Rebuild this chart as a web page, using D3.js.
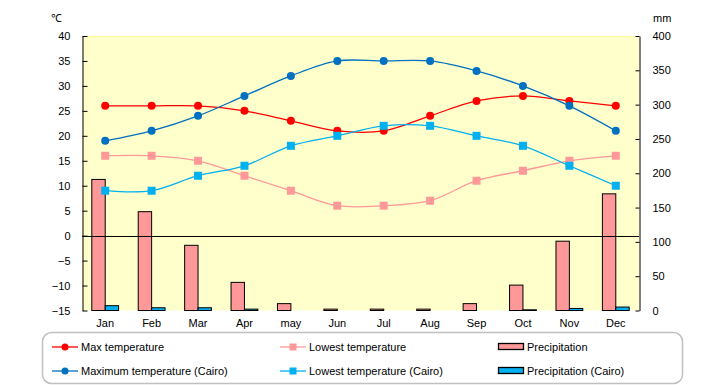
<!DOCTYPE html>
<html>
<head>
<meta charset="utf-8">
<script src="https://cdn.jsdelivr.net/npm/d3@7"></script>
<style>
  body { margin: 0; background: #fff; }
  text { font-family: "Liberation Sans", Arial, sans-serif; font-size: 11px; fill: #000; }
</style>
</head>
<body>
<div id="chart"></div>
<script>
// Data
const months = ["Jan", "Feb", "Mar", "Apr", "may", "Jun", "Jul", "Aug", "Sep", "Oct", "Nov", "Dec"];
const maxTemp = [26, 26, 26, 25, 23, 21, 21, 24, 27, 28, 27, 26];
const minTemp = [16, 16, 15, 12, 9, 6, 6, 7, 11, 13, 15, 16];
const maxTempCairo = [19, 21, 24, 28, 32, 35, 35, 35, 33, 30, 26, 21];
const minTempCairo = [9, 9, 12, 14, 18, 20, 22, 22, 20, 18, 14, 10];
const precip = [191, 144, 95, 41, 10, 2, 2, 2, 10, 37, 101, 170];
const precipCairo = [7, 4, 4, 2, 0, 0, 0, 0, 0, 1, 3, 5];
const tempTicks = [-15, -10, -5, 0, 5, 10, 15, 20, 25, 30, 35, 40];
const rainTicks = [0, 50, 100, 150, 200, 250, 300, 350, 400];

const dims = { width: 720, height: 385, left: 82, right: 639, top: 36, bottom: 310.5 };

const svg = d3.select("#chart").append("svg")
  .attr("width", dims.width)
  .attr("height", dims.height);

// scales
const x = d3.scaleBand().domain(months).range([dims.left, dims.right]);
const yT = d3.scaleLinear().domain([-15, 40]).range([dims.bottom, dims.top]);
const yR = d3.scaleLinear().domain([0, 400]).range([dims.bottom, dims.top]);
const barW = 13.4;
const xSub = d3.scaleBand().domain(["city", "cairo"]).range([-barW, barW]);
const cx = m => x(m) + x.bandwidth() / 2;

// plot background
svg.append("rect")
  .attr("x", dims.left).attr("y", dims.top)
  .attr("width", dims.right - dims.left).attr("height", dims.bottom - dims.top)
  .attr("fill", "#ffffcc");
svg.append("line")
  .attr("x1", dims.left).attr("x2", dims.right)
  .attr("y1", dims.top + 0.5).attr("y2", dims.top + 0.5)
  .attr("stroke", "#ffff99");

// bars
const barSeries = [
  { key: "city", values: precip, fill: "#ff9999" },
  { key: "cairo", values: precipCairo, fill: "#00b0f0" }
];
barSeries.forEach(s => {
  svg.append("g").selectAll("rect")
    .data(months)
    .join("rect")
    .attr("x", (m) => cx(m) + xSub(s.key))
    .attr("width", xSub.bandwidth())
    .attr("y", (m, i) => yR(s.values[i]))
    .attr("height", (m, i) => dims.bottom - yR(s.values[i]))
    .attr("fill", s.fill)
    .attr("stroke", "#000")
    .attr("stroke-width", 1);
});

// zero line
svg.append("line")
  .attr("x1", dims.left).attr("x2", dims.right)
  .attr("y1", Math.round(yT(0)) + 0.5).attr("y2", Math.round(yT(0)) + 0.5)
  .attr("stroke", "#000");

// axes
const leftAxis = svg.append("g")
  .attr("transform", `translate(${dims.left + 0.5},0)`)
  .call(d3.axisLeft(yT).tickValues(tempTicks).tickSizeInner(-5).tickSizeOuter(0).tickPadding(12));
const rightAxis = svg.append("g")
  .attr("transform", `translate(${dims.right + 0.5},0)`)
  .call(d3.axisRight(yR).tickValues(rainTicks).tickSizeInner(-4).tickSizeOuter(0).tickPadding(13));
[leftAxis, rightAxis].forEach(a => {
  a.selectAll("path, line").attr("stroke", "#000");
  a.selectAll("text").style("font-family", "Liberation Sans, Arial, sans-serif").style("font-size", "11px")
    .text(d => d < 0 ? "\u2212" + Math.abs(d) : d);
});

// month labels
svg.append("g").selectAll("text")
  .data(months)
  .join("text")
  .attr("x", cx)
  .attr("y", 327)
  .attr("text-anchor", "middle")
  .text(d => d);

// unit labels
svg.append("text").attr("x", 51).attr("y", 22).text("\u2103");
svg.append("text").attr("x", 653).attr("y", 22).text("mm");

// line series
const lineSeries = [
  { values: maxTemp, color: "#ff0000", marker: "circle" },
  { values: maxTempCairo, color: "#0070c0", marker: "circle" },
  { values: minTemp, color: "#ff9999", marker: "square" },
  { values: minTempCairo, color: "#00b0f0", marker: "square" }
];
const lineGen = d3.line()
  .x((d, i) => cx(months[i]))
  .y(d => yT(d))
  .curve(d3.curveCatmullRom.alpha(0.5));

function drawMarker(g, type, color) {
  if (type === "circle") {
    g.append("circle").attr("r", 4).attr("fill", color);
  } else {
    g.append("rect").attr("x", -4).attr("y", -4).attr("width", 8).attr("height", 8).attr("fill", color);
  }
}

lineSeries.forEach(s => {
  svg.append("path")
    .datum(s.values)
    .attr("d", lineGen)
    .attr("fill", "none")
    .attr("stroke", s.color)
    .attr("stroke-width", 1.3);
  s.values.forEach((v, i) => {
    const g = svg.append("g").attr("transform", `translate(${cx(months[i])},${yT(v)})`);
    drawMarker(g, s.marker, s.color);
  });
});

// legend
svg.append("rect")
  .attr("x", 42.5).attr("y", 332.5)
  .attr("width", 640).attr("height", 51)
  .attr("rx", 9)
  .attr("fill", "#fff")
  .attr("stroke", "#c0c0c0")
  .attr("stroke-width", 1.5);

const legendItems = [
  { label: "Max temperature", type: "line", color: "#ff0000", marker: "circle", x: 52, y: 347 },
  { label: "Maximum temperature (Cairo)", type: "line", color: "#0070c0", marker: "circle", x: 52, y: 371 },
  { label: "Lowest temperature", type: "line", color: "#ff9999", marker: "square", x: 280, y: 347 },
  { label: "Lowest temperature (Cairo)", type: "line", color: "#00b0f0", marker: "square", x: 280, y: 371 },
  { label: "Precipitation", type: "bar", color: "#ff9999", x: 498, y: 347 },
  { label: "Precipitation (Cairo)", type: "bar", color: "#00b0f0", x: 498, y: 371 }
];
legendItems.forEach(d => {
  const g = svg.append("g").attr("transform", `translate(${d.x},${d.y})`);
  if (d.type === "line") {
    g.append("line").attr("x1", 0).attr("x2", 26).attr("stroke", d.color).attr("stroke-width", 1.3);
    const m = g.append("g").attr("transform", "translate(13,0)");
    if (d.marker === "circle") m.append("circle").attr("r", 3.5).attr("fill", d.color);
    else m.append("rect").attr("x", -3.5).attr("y", -3.5).attr("width", 7).attr("height", 7).attr("fill", d.color);
  } else {
    g.append("rect").attr("x", 0.5).attr("y", -3.5).attr("width", 25).attr("height", 6)
      .attr("fill", d.color).attr("stroke", "#000").attr("stroke-width", 1.3);
  }
  g.append("text").attr("x", 29).attr("y", 4).text(d.label);
});
</script>
</body>
</html>
